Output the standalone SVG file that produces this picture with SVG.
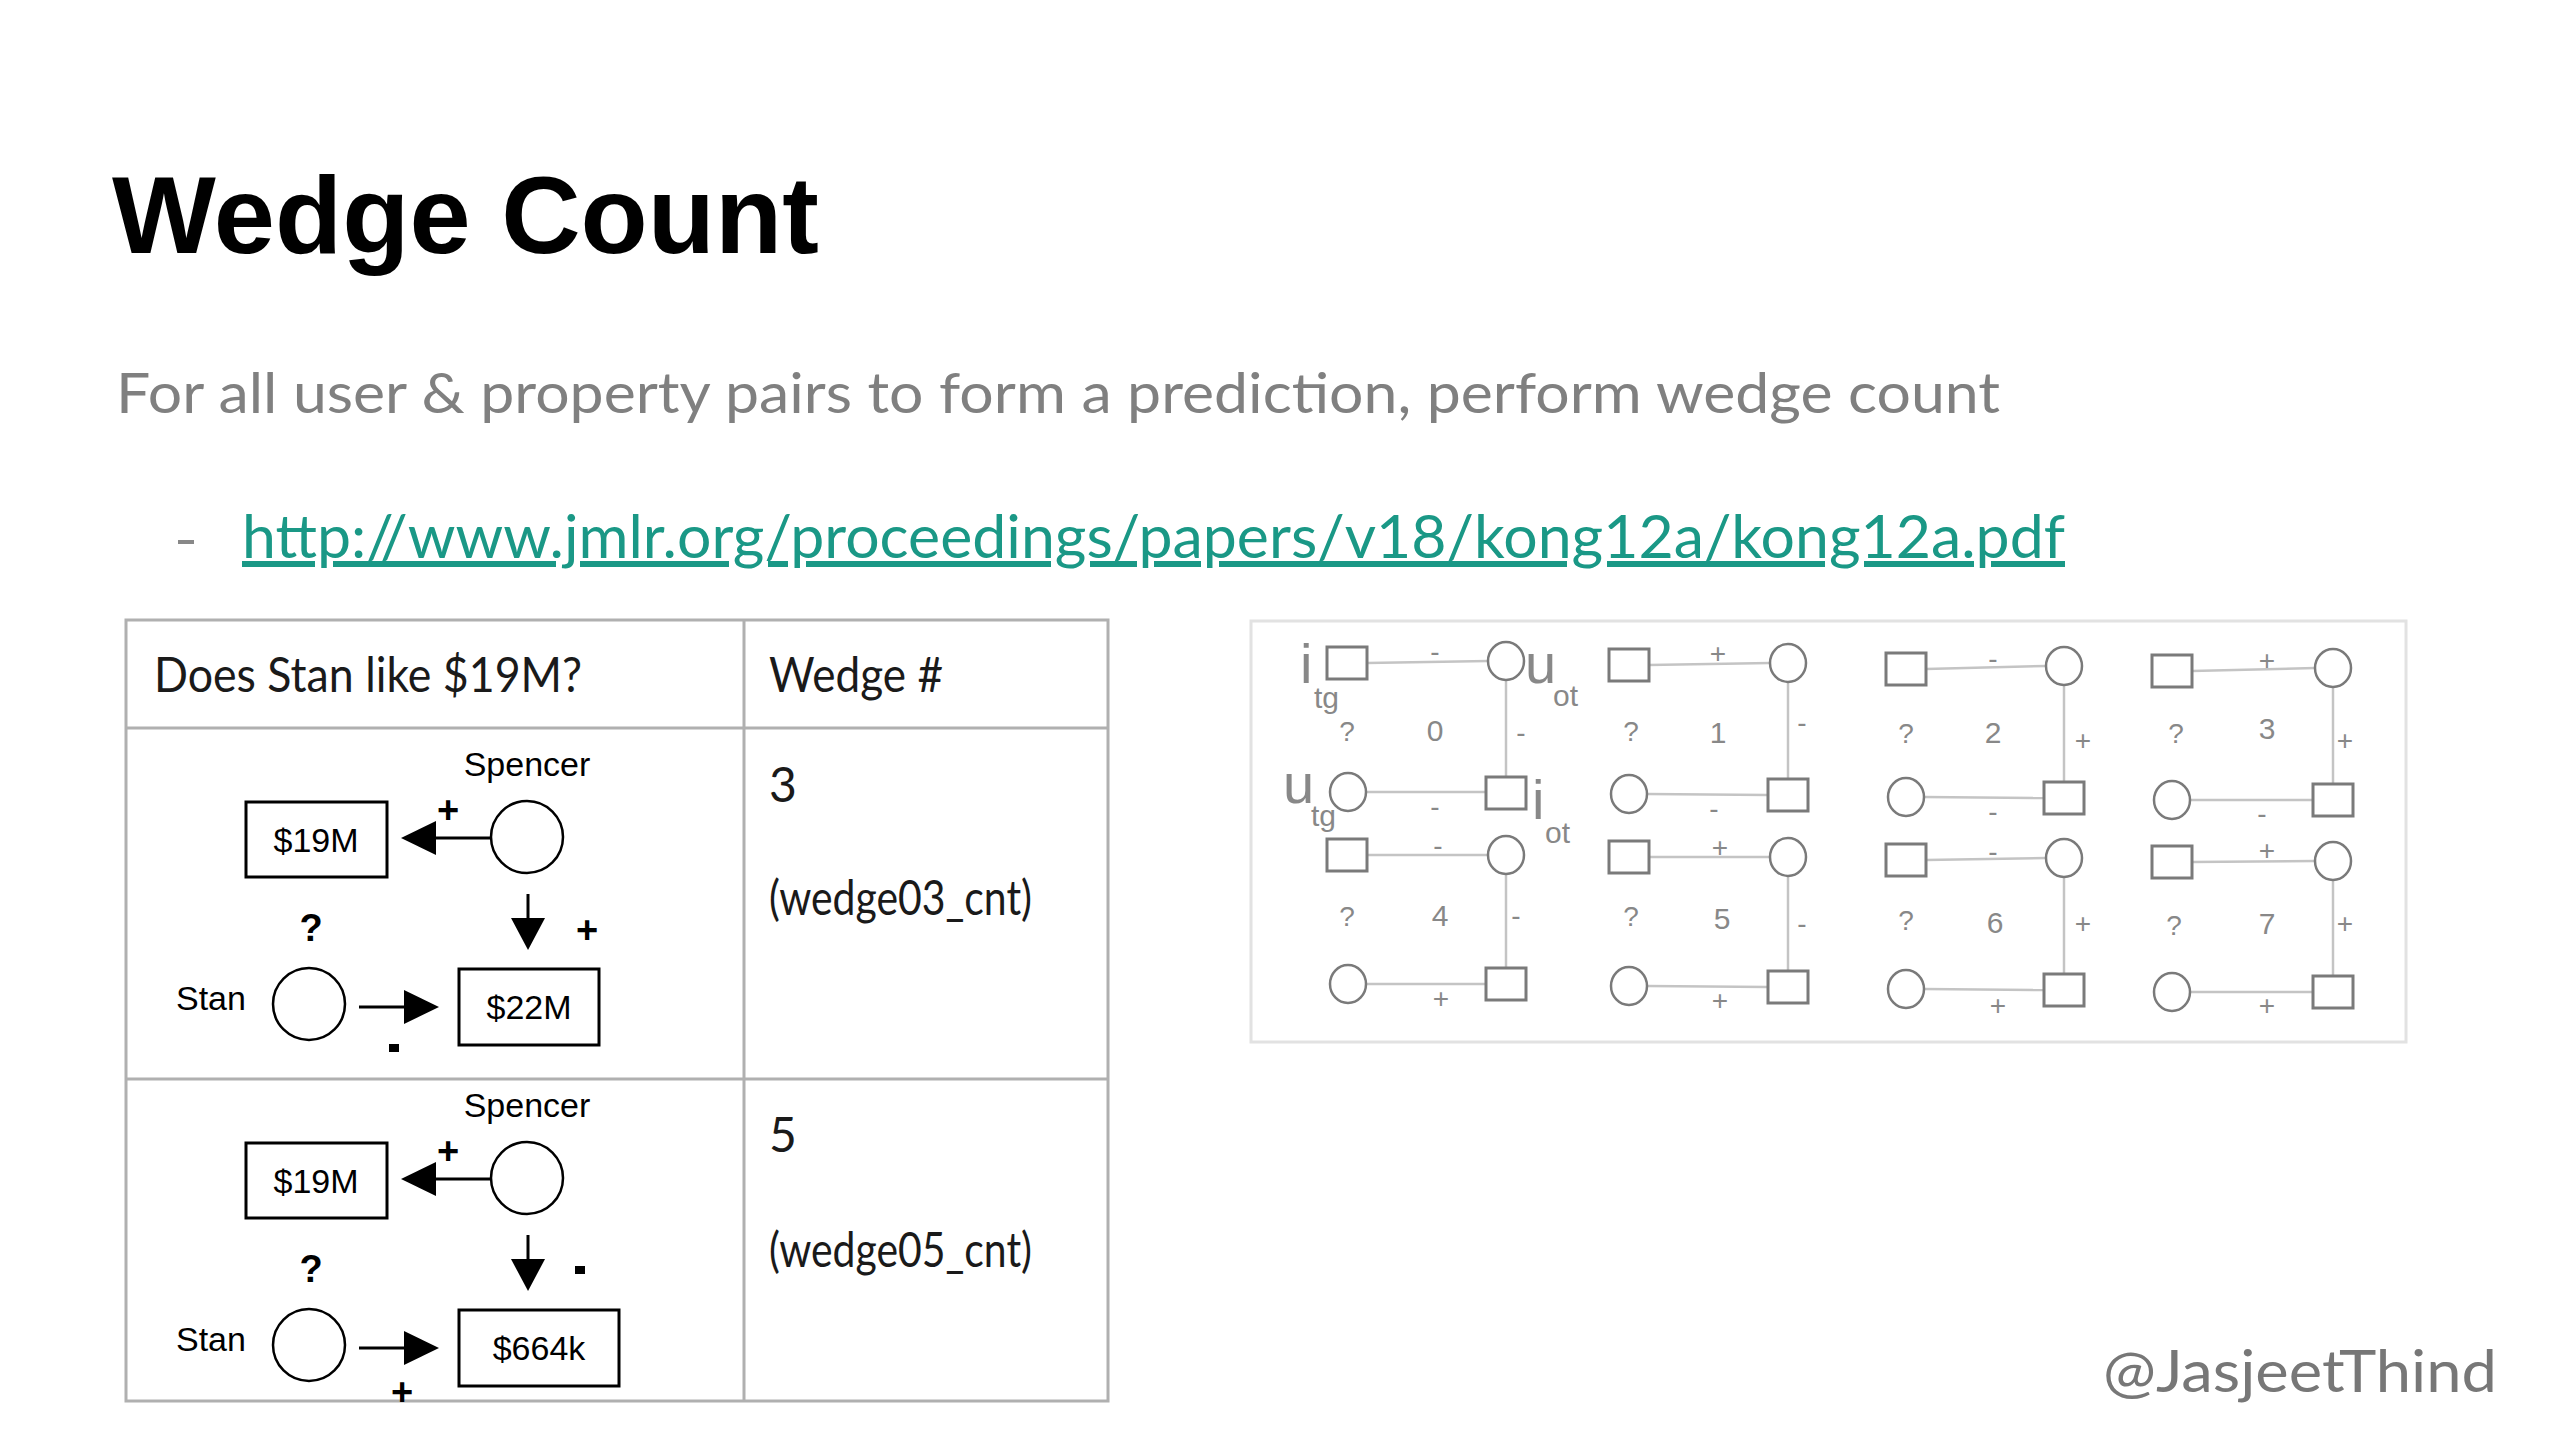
<svg xmlns="http://www.w3.org/2000/svg" width="2560" height="1440" viewBox="0 0 2560 1440">
<defs>
<style>
.title{font-family:"Liberation Sans",Arial,sans-serif;font-weight:bold;font-size:110px;fill:#000}
.sub{font-family:Lato,"Open Sans",sans-serif;font-size:57px;fill:#808080}
.link{font-family:Lato,"Open Sans",sans-serif;font-size:60px;fill:#1a9886;text-decoration:underline}
.cell{font-family:Lato,"Open Sans",sans-serif;font-size:48px;fill:#1a1a1a}
.dg{font-family:"Liberation Sans",Arial,sans-serif;font-size:34px;fill:#000}
.dgb{font-family:"Liberation Sans",Arial,sans-serif;font-size:38px;font-weight:bold;fill:#000;text-anchor:middle}
.box{fill:#fff;stroke:#000;stroke-width:3}
.nd{fill:#fff;stroke:#000;stroke-width:2.5}
.ar{stroke:#000;stroke-width:3;fill:none}
.tb{stroke:#b0b0b0;stroke-width:3;fill:none}
.gq{fill:#fff;stroke:#7a7a7a;stroke-width:3}
.gc{fill:#fff;stroke:#7a7a7a;stroke-width:2.5}
.ge{stroke:#c4c4c4;stroke-width:2.5;fill:none}
.gl{font-family:"Liberation Sans",Arial,sans-serif;font-size:28px;fill:#888;text-anchor:middle}
.gn{font-family:"Liberation Sans",Arial,sans-serif;font-size:30px;fill:#888;text-anchor:middle}
.gb{font-family:"Liberation Sans",Arial,sans-serif;font-size:56px;fill:#888}
.gs{font-family:"Liberation Sans",Arial,sans-serif;font-size:30px;fill:#888}
.wm{font-family:Lato,"Open Sans",sans-serif;font-size:58px;fill:#777}
</style>
</defs>
<rect x="0" y="0" width="2560" height="1440" fill="#fff"/>

<g id="title"><text class="title" x="112" y="253">Wedge Count</text></g>
<g id="subtitle"><text class="sub" x="116" y="413" textLength="1884" lengthAdjust="spacingAndGlyphs">For all user &amp; property pairs to form a prediction, perform wedge count</text></g>
<g id="link">
<rect x="178" y="540" width="16" height="4" fill="#888"/>
<text class="link" x="242" y="558" textLength="1823" lengthAdjust="spacingAndGlyphs">http://www.jmlr.org/proceedings/papers/v18/kong12a/kong12a.pdf</text>
</g>

<g id="table">
<rect class="tb" x="126" y="620" width="982" height="781"/>
<line class="tb" x1="744" y1="620" x2="744" y2="1401"/>
<line class="tb" x1="126" y1="728" x2="1108" y2="728"/>
<line class="tb" x1="126" y1="1079" x2="1108" y2="1079"/>
<text class="cell" x="154" y="692" textLength="428" lengthAdjust="spacingAndGlyphs">Does Stan like $19M?</text>
<text class="cell" x="769" y="692" textLength="174" lengthAdjust="spacingAndGlyphs">Wedge #</text>
<text class="cell" x="769" y="802">3</text>
<text class="cell" x="769" y="915" textLength="263" lengthAdjust="spacingAndGlyphs">(wedge03_cnt)</text>
<text class="cell" x="769" y="1152">5</text>
<text class="cell" x="769" y="1267" textLength="263" lengthAdjust="spacingAndGlyphs">(wedge05_cnt)</text>
</g>

<!-- Row 1 wedge diagram -->
<g id="w3-spencer"><text class="dg" x="527" y="776" text-anchor="middle">Spencer</text><ellipse class="nd" cx="527" cy="837" rx="36" ry="36"/></g>
<g id="w3-19M"><rect class="box" x="246" y="802" width="141" height="75"/><text class="dg" x="316" y="852" text-anchor="middle">$19M</text></g>
<g id="w3-stan"><text class="dg" x="176" y="1010">Stan</text><ellipse class="nd" cx="309" cy="1004" rx="36" ry="36"/></g>
<g id="w3-22M"><rect class="box" x="459" y="969" width="140" height="76"/><text class="dg" x="529" y="1019" text-anchor="middle">$22M</text></g>

<!-- Row 2 wedge diagram -->
<g id="w5-spencer"><text class="dg" x="527" y="1117" text-anchor="middle">Spencer</text><ellipse class="nd" cx="527" cy="1178" rx="36" ry="36"/></g>
<g id="w5-19M"><rect class="box" x="246" y="1143" width="141" height="75"/><text class="dg" x="316" y="1193" text-anchor="middle">$19M</text></g>
<g id="w5-stan"><text class="dg" x="176" y="1351">Stan</text><ellipse class="nd" cx="309" cy="1345" rx="36" ry="36"/></g>
<g id="w5-664k"><rect class="box" x="459" y="1310" width="160" height="76"/><text class="dg" x="539" y="1360" text-anchor="middle">$664k</text></g>

<g id="wedge-connectors">
<line class="ar" x1="490" y1="838" x2="430" y2="838"/><polygon points="401,838 436,821 436,855"/>
<line class="ar" x1="528" y1="894" x2="528" y2="922"/><polygon points="528,950 511,918 545,918"/>
<line class="ar" x1="359" y1="1007" x2="410" y2="1007"/><polygon points="439,1007 404,990 404,1024"/>
<text class="dgb" x="448" y="823">+</text>
<text class="dgb" x="587" y="943">+</text>
<text class="dgb" x="311" y="941">?</text>
<rect x="389" y="1044" width="10" height="8" fill="#000"/>

<line class="ar" x1="490" y1="1179" x2="430" y2="1179"/><polygon points="401,1179 436,1162 436,1196"/>
<line class="ar" x1="528" y1="1235" x2="528" y2="1263"/><polygon points="528,1291 511,1259 545,1259"/>
<line class="ar" x1="359" y1="1348" x2="410" y2="1348"/><polygon points="439,1348 404,1331 404,1365"/>
<text class="dgb" x="448" y="1164">+</text>
<rect x="575" y="1266" width="10" height="8" fill="#000"/>
<text class="dgb" x="311" y="1282">?</text>
<text class="dgb" x="402" y="1405">+</text>
</g>

<!-- Right figure -->
<rect x="1251" y="621" width="1155" height="421" fill="#fff" stroke="#e2e2e2" stroke-width="3"/>

<g id="sub-labels">
<text class="gb" x="1300" y="683">i</text><text class="gs" x="1314" y="708">tg</text>
<text class="gb" x="1525" y="683">u</text><text class="gs" x="1553" y="706">ot</text>
<text class="gb" x="1283" y="803">u</text><text class="gs" x="1311" y="826">tg</text>
<text class="gb" x="1532" y="819">i</text><text class="gs" x="1545" y="843">ot</text>
</g>

<g id="fig-connectors">
<line class="ge" x1="1367" y1="663" x2="1488" y2="661"/><line class="ge" x1="1506" y1="680" x2="1506" y2="777"/><line class="ge" x1="1366" y1="792" x2="1486" y2="792"/>
<line class="ge" x1="1367" y1="855" x2="1488" y2="855"/><line class="ge" x1="1506" y1="874" x2="1506" y2="969"/><line class="ge" x1="1366" y1="984" x2="1486" y2="984"/>
<line class="ge" x1="1649" y1="665" x2="1770" y2="663"/><line class="ge" x1="1788" y1="682" x2="1788" y2="779"/><line class="ge" x1="1647" y1="794" x2="1768" y2="795"/>
<line class="ge" x1="1649" y1="857" x2="1770" y2="857"/><line class="ge" x1="1788" y1="876" x2="1788" y2="971"/><line class="ge" x1="1647" y1="986" x2="1768" y2="987"/>
<line class="ge" x1="1926" y1="669" x2="2046" y2="666"/><line class="ge" x1="2064" y1="685" x2="2064" y2="782"/><line class="ge" x1="1924" y1="797" x2="2044" y2="798"/>
<line class="ge" x1="1926" y1="860" x2="2046" y2="858"/><line class="ge" x1="2064" y1="877" x2="2064" y2="974"/><line class="ge" x1="1924" y1="989" x2="2044" y2="990"/>
<line class="ge" x1="2192" y1="671" x2="2315" y2="668"/><line class="ge" x1="2333" y1="687" x2="2333" y2="784"/><line class="ge" x1="2190" y1="800" x2="2313" y2="800"/>
<line class="ge" x1="2192" y1="862" x2="2315" y2="861"/><line class="ge" x1="2333" y1="880" x2="2333" y2="976"/><line class="ge" x1="2190" y1="992" x2="2313" y2="992"/>
</g>

<g id="fig-nodes">
<rect class="gq" x="1327" y="647" width="40" height="32"/><ellipse class="gc" cx="1506" cy="661" rx="18" ry="19"/>
<ellipse class="gc" cx="1348" cy="792" rx="18" ry="19"/><rect class="gq" x="1486" y="777" width="40" height="32"/>
<rect class="gq" x="1327" y="839" width="40" height="32"/><ellipse class="gc" cx="1506" cy="855" rx="18" ry="19"/>
<ellipse class="gc" cx="1348" cy="984" rx="18" ry="19"/><rect class="gq" x="1486" y="968" width="40" height="32"/>
<rect class="gq" x="1609" y="649" width="40" height="32"/><ellipse class="gc" cx="1788" cy="663" rx="18" ry="19"/>
<ellipse class="gc" cx="1629" cy="794" rx="18" ry="19"/><rect class="gq" x="1768" y="779" width="40" height="32"/>
<rect class="gq" x="1609" y="841" width="40" height="32"/><ellipse class="gc" cx="1788" cy="857" rx="18" ry="19"/>
<ellipse class="gc" cx="1629" cy="986" rx="18" ry="19"/><rect class="gq" x="1768" y="971" width="40" height="32"/>
<rect class="gq" x="1886" y="653" width="40" height="32"/><ellipse class="gc" cx="2064" cy="666" rx="18" ry="19"/>
<ellipse class="gc" cx="1906" cy="797" rx="18" ry="19"/><rect class="gq" x="2044" y="782" width="40" height="32"/>
<rect class="gq" x="1886" y="844" width="40" height="32"/><ellipse class="gc" cx="2064" cy="858" rx="18" ry="19"/>
<ellipse class="gc" cx="1906" cy="989" rx="18" ry="19"/><rect class="gq" x="2044" y="974" width="40" height="32"/>
<rect class="gq" x="2152" y="655" width="40" height="32"/><ellipse class="gc" cx="2333" cy="668" rx="18" ry="19"/>
<ellipse class="gc" cx="2172" cy="800" rx="18" ry="19"/><rect class="gq" x="2313" y="784" width="40" height="32"/>
<rect class="gq" x="2152" y="846" width="40" height="32"/><ellipse class="gc" cx="2333" cy="861" rx="18" ry="19"/>
<ellipse class="gc" cx="2172" cy="992" rx="18" ry="19"/><rect class="gq" x="2313" y="976" width="40" height="32"/>
</g>

<g id="fig-labels">
<text class="gl" x="1435" y="661">-</text><text class="gl" x="1347" y="741">?</text><text class="gn" x="1435" y="741">0</text><text class="gl" x="1521" y="742">-</text><text class="gl" x="1435" y="816">-</text>
<text class="gl" x="1438" y="855">-</text><text class="gl" x="1347" y="926">?</text><text class="gn" x="1440" y="926">4</text><text class="gl" x="1516" y="925">-</text><text class="gl" x="1441" y="1008">+</text>
<text class="gl" x="1718" y="663">+</text><text class="gl" x="1631" y="741">?</text><text class="gn" x="1718" y="743">1</text><text class="gl" x="1802" y="732">-</text><text class="gl" x="1714" y="818">-</text>
<text class="gl" x="1720" y="857">+</text><text class="gl" x="1631" y="926">?</text><text class="gn" x="1722" y="929">5</text><text class="gl" x="1802" y="933">-</text><text class="gl" x="1720" y="1010">+</text>
<text class="gl" x="1993" y="668">-</text><text class="gl" x="1906" y="743">?</text><text class="gn" x="1993" y="743">2</text><text class="gl" x="2083" y="750">+</text><text class="gl" x="1993" y="821">-</text>
<text class="gl" x="1993" y="861">-</text><text class="gl" x="1906" y="930">?</text><text class="gn" x="1995" y="933">6</text><text class="gl" x="2083" y="933">+</text><text class="gl" x="1998" y="1015">+</text>
<text class="gl" x="2267" y="670">+</text><text class="gl" x="2176" y="743">?</text><text class="gn" x="2267" y="739">3</text><text class="gl" x="2345" y="750">+</text><text class="gl" x="2262" y="823">-</text>
<text class="gl" x="2267" y="860">+</text><text class="gl" x="2174" y="935">?</text><text class="gn" x="2267" y="934">7</text><text class="gl" x="2345" y="933">+</text><text class="gl" x="2267" y="1015">+</text>
</g>

<g id="watermark"><text class="wm" x="2103" y="1392" textLength="394" lengthAdjust="spacingAndGlyphs">@JasjeetThind</text></g>
</svg>
